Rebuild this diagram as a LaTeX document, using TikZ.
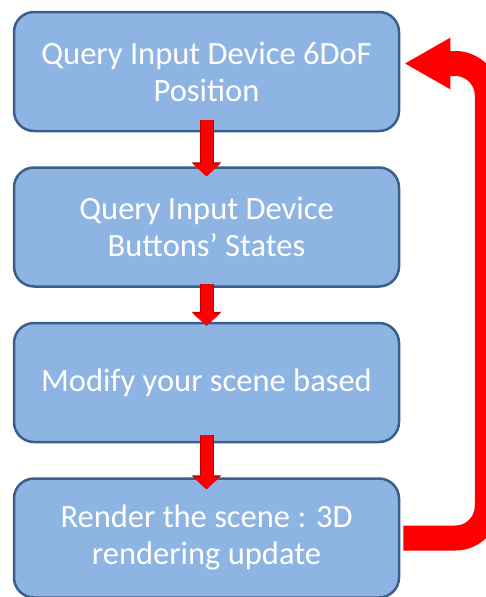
\documentclass[tikz,border=0pt]{standalone}
\usepackage{fontspec}
\setmainfont{Carlito}
\usetikzlibrary{positioning,arrows.meta}

\definecolor{boxfill}{RGB}{142,180,227}
\definecolor{boxrim}{RGB}{58,95,139}
\definecolor{arrowred}{RGB}{255,0,0}
\definecolor{arrowrim}{RGB}{190,0,0}

\tikzset{
  stepbox/.style={draw=boxrim, line width=2.5pt, fill=boxfill, rounded corners=20pt,
    minimum width=385pt, minimum height=119pt, align=center, text=white,
    font=\fontsize{32.5}{37}\selectfont},
  flowarrow/.style={arrowred, line width=12pt, -{Triangle[width=26pt,length=12pt]},
    preaction={draw=arrowrim, line width=14pt, -{Triangle[width=29pt,length=14pt]}}},
  looparrow/.style={arrowred, line width=25pt, rounded corners=32pt,
    -{Triangle[width=48pt,length=46pt]}}
}

\begin{document}
\begin{tikzpicture}[x=1pt, y=-1pt, node distance=34pt]
  \useasboundingbox (0,0) rectangle (486,597);
  % the four steps of the loop
  \node[stepbox] (b1) at (206.5,71.5) {Query Input Device 6DoF\\Position};
  \node[stepbox, below=of b1] (b2) {Query Input Device\\Buttons' States};
  \node[stepbox, below=of b2] (b3) {Modify your scene based};
  \node[stepbox, below=of b3] (b4) {Render the scene : 3D\\rendering update};
  % short arrows, each overlapping its two boxes a little
  \foreach \source/\dest/\s/\e in {b1/b2/12/10, b2/b3/4/4, b3/b4/8/12}
    \draw[flowarrow] ([yshift=\s pt]\source.south) -- ([yshift=-\e pt]\dest.north);
  % back to the top
  \draw[looparrow] ([xshift=3pt]b4.east) -- ++(84,0) |- ([xshift=4pt,yshift=8pt]b1.east);
\end{tikzpicture}
\end{document}
